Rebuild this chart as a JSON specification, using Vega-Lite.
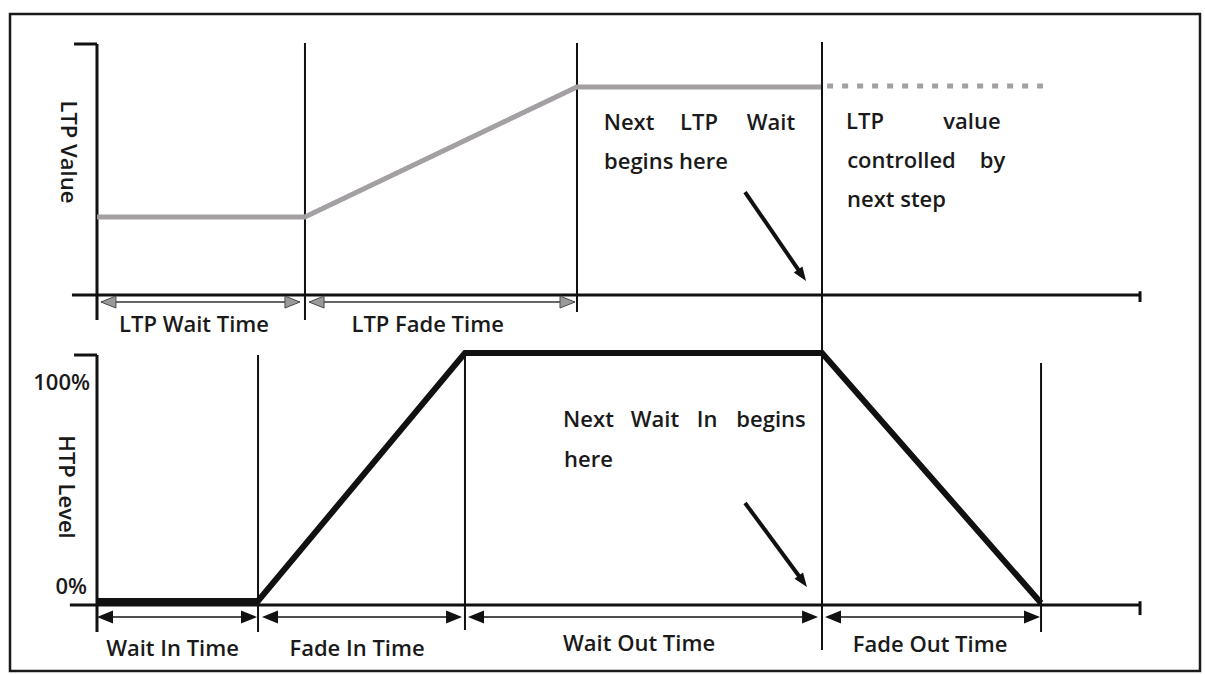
{
  "$schema": "https://vega.github.io/schema/vega-lite/v6.json",
  "width": 1205,
  "height": 675,
  "autosize": {"type": "fit", "contains": "padding"},
  "padding": {"left": 10, "top": 14, "right": 5, "bottom": 4},
  "background": "white",
  "config": {
    "view": {"stroke": "#1a1a1a", "strokeWidth": 2.5},
    "text": {"font": "Open Sans", "fontSize": 22, "fontWeight": 600, "color": "#1a1a1a"}
  },
  "datasets": {
    "topAxis": [
      {"t": 0, "v": -10, "t2": 0, "v2": 100},
      {"t": -2.2, "v": 100, "t2": 0, "v2": 100},
      {"t": -2.4, "v": 0, "t2": 100, "v2": 0},
      {"t": 100, "v": 1.5, "t2": 100, "v2": -2.8}
    ],
    "topGuides": [
      {"t": 19.94, "v": 100.4, "t2": 19.94, "v2": -10},
      {"t": 46.02, "v": 100.4, "t2": 46.02, "v2": -6.8}
    ],
    "topDims": [
      {"t": 0.4, "v": -2.8, "t2": 19.4, "v2": -2.8},
      {"t": 20.4, "v": -2.8, "t2": 45.8, "v2": -2.8}
    ],
    "topHeads": [
      {"t": 0.38, "v": -2.8, "dir": "left"},
      {"t": 19.46, "v": -2.8, "dir": "right"},
      {"t": 20.33, "v": -2.8, "dir": "left"},
      {"t": 45.83, "v": -2.8, "dir": "right"}
    ],
    "ltp": [
      {"t": 0, "v": 31.1, "step": "current"},
      {"t": 19.94, "v": 31.1, "step": "current"},
      {"t": 46.02, "v": 82.9, "step": "current"},
      {"t": 69.51, "v": 82.9, "step": "current"},
      {"t": 70.0, "v": 83.3, "step": "next"},
      {"t": 90.7, "v": 83.3, "step": "next"}
    ],
    "topLabels": [
      {"t": 9.3, "v": -11.95, "label": "LTP Wait Time"},
      {"t": 31.7, "v": -11.95, "label": "LTP Fade Time"},
      {"t": 51.01, "v": 68.5, "label": "Next"},
      {"t": 57.72, "v": 68.5, "label": "LTP"},
      {"t": 64.62, "v": 68.5, "label": "Wait"},
      {"t": 54.55, "v": 53.0, "label": "begins here"},
      {"t": 73.63, "v": 68.9, "label": "LTP"},
      {"t": 83.89, "v": 68.9, "label": "value"},
      {"t": 77.13, "v": 53.4, "label": "controlled"},
      {"t": 85.86, "v": 53.4, "label": "by"},
      {"t": 76.65, "v": 37.8, "label": "next step"}
    ],
    "topTitle": [{"t": -2.8, "v": 57, "label": "LTP Value"}],
    "topArrow": [{"t": 62.13, "v": 41.0, "t2": 67.33, "v2": 9.52}],
    "topArrowHead": [{"t": 67.98, "v": 5.58}],
    "bottomAxis": [
      {"t": 0, "v": -10.7, "t2": 0, "v2": 99.2},
      {"t": -2.2, "v": 99.2, "t2": 0, "v2": 99.2},
      {"t": -2.6, "v": 0, "t2": 100, "v2": 0},
      {"t": 100, "v": 1.5, "t2": 100, "v2": -4}
    ],
    "bottomGuides": [
      {"t": 15.44, "v": 99.2, "t2": 15.44, "v2": -10.7},
      {"t": 35.28, "v": 100.4, "t2": 35.28, "v2": -9.9},
      {"t": 69.51, "v": 223.4, "t2": 69.51, "v2": -17.9},
      {"t": 90.51, "v": 96, "t2": 90.51, "v2": -10.7}
    ],
    "bottomDims": [
      {"t": 0.4, "v": -4.76, "t2": 15.0, "v2": -4.76},
      {"t": 16.2, "v": -4.76, "t2": 34.8, "v2": -4.76},
      {"t": 36.0, "v": -4.76, "t2": 68.8, "v2": -4.76},
      {"t": 70.2, "v": -4.76, "t2": 90.0, "v2": -4.76}
    ],
    "bottomHeads": [
      {"t": 0, "v": -4.76, "dir": "left"},
      {"t": 15.34, "v": -4.76, "dir": "right"},
      {"t": 15.82, "v": -4.76, "dir": "left"},
      {"t": 35.0, "v": -4.76, "dir": "right"},
      {"t": 35.57, "v": -4.76, "dir": "left"},
      {"t": 69.13, "v": -4.76, "dir": "right"},
      {"t": 69.8, "v": -4.76, "dir": "left"},
      {"t": 90.41, "v": -4.76, "dir": "right"}
    ],
    "htp": [
      {"t": 0, "v": 1.6},
      {"t": 15.44, "v": 1.6},
      {"t": 35.28, "v": 100},
      {"t": 69.51, "v": 100},
      {"t": 90.51, "v": 0.8}
    ],
    "bottomLabels": [
      {"t": 7.24, "v": -17.5, "label": "Wait In Time"},
      {"t": 24.93, "v": -17.5, "label": "Fade In Time"},
      {"t": 51.97, "v": -15.5, "label": "Wait Out Time"},
      {"t": 79.87, "v": -15.9, "label": "Fade Out Time"},
      {"t": 47.12, "v": 73.4, "label": "Next"},
      {"t": 53.5, "v": 73.4, "label": "Wait"},
      {"t": 58.49, "v": 73.4, "label": "In"},
      {"t": 64.62, "v": 73.4, "label": "begins"},
      {"t": 47.12, "v": 57.5, "label": "here"}
    ],
    "levelTicks": [
      {"t": -0.67, "v": 88.1, "label": "100%"},
      {"t": -0.96, "v": 7.1, "label": "0%"}
    ],
    "bottomTitle": [{"t": -3.0, "v": 46.8, "label": "HTP Level"}],
    "bottomArrow": [{"t": 62.13, "v": 40.5, "t2": 67.39, "v2": 11.0}],
    "bottomArrowHead": [{"t": 68.07, "v": 7.14}]
  },
  "layer": [
    {
      "encoding": {
        "x": {"field": "t", "type": "quantitative", "scale": {"domain": [-8.34, 105.75], "nice": false, "zero": false}, "axis": null},
        "y": {"field": "v", "type": "quantitative", "scale": {"domain": [-149.8, 111.95], "nice": false, "zero": false}, "axis": null}
      },
      "layer": [
        {"data": {"name": "topAxis"}, "mark": {"type": "rule", "color": "#111111", "strokeWidth": 3}, "encoding": {"x2": {"field": "t2"}, "y2": {"field": "v2"}}},
        {"data": {"name": "topGuides"}, "mark": {"type": "rule", "color": "#111111", "strokeWidth": 2}, "encoding": {"x2": {"field": "t2"}, "y2": {"field": "v2"}}},
        {"data": {"name": "topDims"}, "mark": {"type": "rule", "color": "#333333", "strokeWidth": 1.5}, "encoding": {"x2": {"field": "t2"}, "y2": {"field": "v2"}}},
        {"data": {"name": "topHeads"}, "mark": {"type": "point", "filled": true, "color": "#9a9a9a", "stroke": "#4a4a4a", "strokeWidth": 1, "size": 225, "opacity": 1},
         "encoding": {"shape": {"field": "dir", "type": "nominal", "scale": {"domain": ["left", "right"], "range": ["M0,0L2,-0.8L2,0.8Z", "M0,0L-2,-0.8L-2,0.8Z"]}, "legend": null}}},
        {"data": {"name": "ltp"}, "mark": {"type": "line", "color": "#a39fa3", "strokeWidth": 5, "strokeJoin": "miter"},
         "encoding": {"strokeDash": {"field": "step", "type": "nominal", "scale": {"domain": ["current", "next"], "range": [[1, 0], [6, 9]]}, "legend": null}}},
        {"data": {"name": "topLabels"}, "mark": {"type": "text", "align": "center", "baseline": "middle"}, "encoding": {"text": {"field": "label"}}},
        {"data": {"name": "topTitle"}, "mark": {"type": "text", "align": "center", "baseline": "middle", "angle": 90}, "encoding": {"text": {"field": "label"}}},
        {"data": {"name": "topArrow"}, "mark": {"type": "rule", "color": "#111111", "strokeWidth": 4}, "encoding": {"x2": {"field": "t2"}, "y2": {"field": "v2"}}},
        {"data": {"name": "topArrowHead"}, "mark": {"type": "point", "filled": true, "color": "#111111", "opacity": 1, "size": 196, "angle": 55.6, "shape": "M0,0L-2,-0.75L-2,0.75Z"}}
      ]
    },
    {
      "encoding": {
        "x": {"field": "t", "type": "quantitative", "scale": {"domain": [-8.34, 105.75], "nice": false, "zero": false}, "axis": null},
        "y": {"field": "v", "type": "quantitative", "scale": {"domain": [-26.19, 234.52], "nice": false, "zero": false}, "axis": null}
      },
      "layer": [
        {"data": {"name": "bottomAxis"}, "mark": {"type": "rule", "color": "#111111", "strokeWidth": 3}, "encoding": {"x2": {"field": "t2"}, "y2": {"field": "v2"}}},
        {"data": {"name": "bottomGuides"}, "mark": {"type": "rule", "color": "#111111", "strokeWidth": 2}, "encoding": {"x2": {"field": "t2"}, "y2": {"field": "v2"}}},
        {"data": {"name": "bottomDims"}, "mark": {"type": "rule", "color": "#111111", "strokeWidth": 1.5}, "encoding": {"x2": {"field": "t2"}, "y2": {"field": "v2"}}},
        {"data": {"name": "bottomHeads"}, "mark": {"type": "point", "filled": true, "color": "#111111", "size": 256, "opacity": 1},
         "encoding": {"shape": {"field": "dir", "type": "nominal", "scale": {"domain": ["left", "right"], "range": ["M0,0L2,-0.8L2,0.8Z", "M0,0L-2,-0.8L-2,0.8Z"]}, "legend": null}}},
        {"data": {"name": "htp"}, "mark": {"type": "line", "color": "#111111", "strokeWidth": 6, "strokeJoin": "miter"}},
        {"data": {"name": "bottomLabels"}, "mark": {"type": "text", "align": "center", "baseline": "middle"}, "encoding": {"text": {"field": "label"}}},
        {"data": {"name": "levelTicks"}, "mark": {"type": "text", "align": "right", "baseline": "middle"}, "encoding": {"text": {"field": "label"}}},
        {"data": {"name": "bottomTitle"}, "mark": {"type": "text", "align": "center", "baseline": "middle", "angle": 90}, "encoding": {"text": {"field": "label"}}},
        {"data": {"name": "bottomArrow"}, "mark": {"type": "rule", "color": "#111111", "strokeWidth": 4}, "encoding": {"x2": {"field": "t2"}, "y2": {"field": "v2"}}},
        {"data": {"name": "bottomArrowHead"}, "mark": {"type": "point", "filled": true, "color": "#111111", "opacity": 1, "size": 196, "angle": 54, "shape": "M0,0L-2,-0.75L-2,0.75Z"}}
      ]
    }
  ],
  "resolve": {"scale": {"y": "independent"}}
}
